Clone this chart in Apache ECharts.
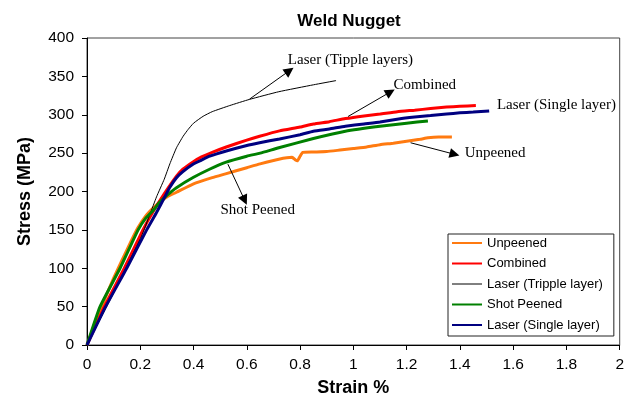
<!DOCTYPE html>
<html><head><meta charset="utf-8">
<script src="https://cdn.jsdelivr.net/npm/echarts@6/dist/echarts.min.js"></script>
<style>html,body{margin:0;padding:0;background:#fff}#c{width:627px;height:402px}</style>
</head><body><div id="c"></div>
<script>
// ---- data (strain %, stress MPa) ----
const seriesNames = ['Unpeened', 'Combined', 'Laser (Tripple layer)', 'Shot Peened', 'Laser (Single layer)'];
const unpeened = [[0,0],[0.05,45],[0.1,87],[0.15,124],[0.19,152],[0.22,168],[0.25,179],[0.28,188],[0.3,193],[0.336,199],[0.4,210],[0.47,218],[0.52,223],[0.6,231],[0.65,236],[0.72,242],[0.77,244.5],[0.783,241],[0.79,240],[0.8,246],[0.81,251],[0.85,251.5],[0.9,252],[0.95,254],[1.0,256],[1.05,258],[1.1,261],[1.15,263],[1.2,265.5],[1.25,268],[1.28,270],[1.32,271],[1.37,271]];
const combined = [[0,0],[0.065,50],[0.14,100],[0.21,150],[0.25,175],[0.29,197],[0.336,220],[0.36,229],[0.398,238.5],[0.43,245],[0.47,251],[0.523,258],[0.6,267],[0.648,272],[0.723,279],[0.8,284],[0.85,288],[0.91,291],[0.97,295],[1.04,298.5],[1.1,301],[1.165,304],[1.23,306],[1.29,308],[1.35,310],[1.4,311],[1.46,312]];
const tripple = [[0,0],[0.05,34],[0.1,68],[0.15,103],[0.205,142],[0.236,170],[0.261,193],[0.29,216],[0.311,236],[0.336,257],[0.361,272],[0.38,281],[0.4,289],[0.436,298],[0.47,304],[0.536,312],[0.61,320],[0.72,330],[0.85,339],[0.935,344.5]];
const shotPeened = [[0,0],[0.049,50],[0.124,100],[0.192,150],[0.22,165],[0.25,176],[0.27,185],[0.3,195],[0.336,205],[0.4,218.5],[0.46,229],[0.52,238],[0.6,246],[0.65,250],[0.72,257],[0.85,269],[0.97,278.5],[1.1,285],[1.2,289],[1.28,292]];
const singleLayer = [[0,0],[0.07,50],[0.149,100],[0.224,150],[0.26,172],[0.292,193],[0.31,205],[0.336,218],[0.36,226],[0.398,235.6],[0.43,241],[0.461,246],[0.523,252.8],[0.6,260],[0.648,263.5],[0.723,268.5],[0.8,274],[0.85,278.5],[0.91,281.5],[0.97,285],[1.04,288],[1.1,290.5],[1.17,294.5],[1.23,297],[1.29,299],[1.35,301],[1.4,302.5],[1.45,303.5],[1.51,305]];
const xTickLabels = ['0','0.2','0.4','0.6','0.8','1','1.2','1.4','1.6','1.8','2'];
const yTickLabels = ['0','50','100','150','200','250','300','350','400'];
// annotations: [text, [x,y] of text] and arrows [start, end]
const annoTexts = [
  ['Laser (Tipple layers)', [0.754, 371.5]],
  ['Combined', [1.151, 339]],
  ['Laser (Single layer)', [1.539, 312.6]],
  ['Unpeened', [1.418, 250.6]],
  ['Shot Peened', [0.501, 175.9]]
];
const annoArrows = [
  [[0.610, 320.3], [0.760, 357.4]],
  [[0.980, 297.7], [1.139, 329.7]],
  [[1.215, 263.5], [1.380, 248.5]],
  [[0.529, 235.6], [0.592, 188.7]]
];

const colors = ['#FF7A10', '#FF0000', '#000000', '#008000', '#000080'];
const widths = [3, 3, 1, 3, 3];
const legendWidths = [2, 2, 1, 2, 2];
const datas = [unpeened, combined, tripple, shotPeened, singleLayer];

const chart = echarts.init(document.getElementById('c'), null, {renderer: 'canvas'});
const sans = 'Liberation Sans, Arial, sans-serif';
const series = datas.map((d, i) => ({
  name: seriesNames[i], type: 'line', data: d, symbol: 'none', smooth: 0.15,
  lineStyle: {color: colors[i], width: widths[i]}, itemStyle: {color: colors[i]},
  animation: false
}));
series.push({
  name: 'anno', type: 'line', data: [[0, 0]], symbol: 'none', lineStyle: {width: 0}, animation: false,
  itemStyle: {color: '#000'},
  markLine: {
    silent: true, symbol: ['none', 'triangle'], symbolSize: 10,
    itemStyle: {color: '#000'},
    lineStyle: {color: '#000', width: 1, type: 'solid'},
    label: {show: false},
    data: annoArrows.map(a => [{coord: a[0]}, {coord: a[1]}])
  },
  markPoint: {
    silent: true, symbol: 'circle', symbolSize: 0,
    label: {show: true, position: 'right', distance: 0, color: '#000', fontFamily: 'Liberation Serif, Times New Roman, serif', fontSize: 15,
      formatter: p => p.name},
    data: annoTexts.map(t => ({name: t[0], coord: t[1]}))
  }
});

chart.setOption({
  animation: false,
  backgroundColor: '#fff',
  title: {text: 'Weld Nugget', left: 344, top: 8, textAlign: 'center',
    textStyle: {fontFamily: sans, fontWeight: 'bold', fontSize: 17, color: '#000'}},
  grid: {left: 87, top: 38, width: 534, height: 312, show: true, borderColor: '#444', borderWidth: 1},
  legend: {
    data: seriesNames.map((n, i) => ({name: n, lineStyle: {width: legendWidths[i], color: colors[i]}})),
    orient: 'vertical', left: 448, top: 234,
    itemWidth: 30, itemHeight: 14, itemGap: 6.5,
    padding: [2, 11, 4, 3], borderColor: '#222', borderWidth: 1, backgroundColor: '#fff',
    itemStyle: {opacity: 0},
    textStyle: {fontFamily: sans, fontSize: 13, color: '#000', lineHeight: 14}
  },
  xAxis: {
    type: 'value', min: 0, max: 2, interval: 0.2,
    name: 'Strain %', nameLocation: 'middle', nameGap: 34,
    nameTextStyle: {fontFamily: sans, fontWeight: 'bold', fontSize: 18, color: '#000'},
    axisLine: {lineStyle: {color: '#000', width: 1}},
    axisTick: {show: true, length: 5, lineStyle: {color: '#000'}},
    axisLabel: {fontFamily: sans, fontSize: 15.5, color: '#000', margin: 12,
      formatter: v => xTickLabels[Math.round(v * 5)]},
    splitLine: {show: false}
  },
  yAxis: {
    type: 'value', min: 0, max: 400, interval: 50,
    name: 'Stress (MPa)', nameLocation: 'middle', nameGap: 53,
    nameTextStyle: {fontFamily: sans, fontWeight: 'bold', fontSize: 18, color: '#000'},
    axisLine: {show: true, lineStyle: {color: '#000', width: 1}},
    axisTick: {show: true, length: 5, lineStyle: {color: '#000'}},
    axisLabel: {fontFamily: sans, fontSize: 15.5, color: '#000', margin: 13,
      formatter: v => yTickLabels[Math.round(v / 50)]},
    splitLine: {show: false}
  },
  series: series
});
</script></body></html>
